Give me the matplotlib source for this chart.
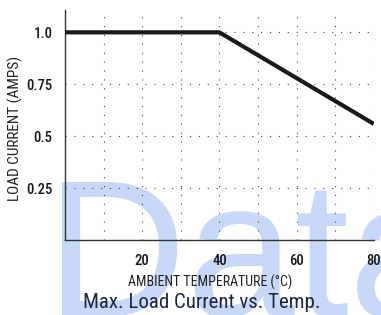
import matplotlib
matplotlib.use("Agg")
import matplotlib.pyplot as plt

# Derating curve (temperature in C, current in A)
temp = [0, 40, 80]
current = [1.0, 1.0, 0.56]

x_major = [20, 40, 60, 80]
x_minor = [10, 30, 50, 70]
y_ticks = [0.25, 0.5, 0.75, 1.0]
y_labels = ["0.25", "0.5", "0.75", "1.0"]

cond = ["Roboto Condensed", "DejaVu Sans"]

fig = plt.figure(figsize=(3.81, 3.15), dpi=100)
ax = fig.add_axes([0.1706, 0.237, 0.8104, 0.731])
ax.patch.set_alpha(0)

# watermark behind everything
fig.text(0.122, -0.003, "Data", fontsize=140, family=["Liberation Sans", "Arimo", "DejaVu Sans"],
         color="#c8d8f8", ha="left", va="baseline", zorder=-1)

ax.plot(temp, current, color="#1a1a1a", linewidth=3, solid_capstyle="butt", zorder=3)

ax.set_xlim(0, 80)
ax.set_ylim(0, 1.107)
ax.set_xticks(x_major)
ax.set_xticks(x_minor, minor=True)
ax.set_yticks(y_ticks)
ax.set_yticklabels(y_labels)
ax.grid(True, which="both", linestyle=(0, (1, 7)), color="#444444", linewidth=0.8)
ax.tick_params(which="both", length=0)
ax.tick_params(axis="y", pad=9, labelsize=10.5)
ax.tick_params(axis="x", pad=10, labelsize=10.5)
for lab in ax.get_xticklabels() + ax.get_yticklabels():
    lab.set_family(cond)
    lab.set_color("#1a1a1a")
    lab.set_weight("medium")

for s in ["top", "right"]:
    ax.spines[s].set_visible(False)
for s in ["left", "bottom"]:
    ax.spines[s].set_color("#333333")
    ax.spines[s].set_linewidth(1.0)

ax.set_xlabel("AMBIENT TEMPERATURE (°C)", family=cond, fontsize=10, color="#222222")
ax.xaxis.set_label_coords(0.47, -0.181)
ax.xaxis.label.set_va("center")
ax.set_ylabel("LOAD CURRENT (AMPS)", family=cond, fontsize=11, color="#222222")
ax.yaxis.set_label_coords(-0.162, 0.485)
ax.yaxis.label.set_va("center")

fig.text(0.53, 0.041, "Max. Load Current vs. Temp.", family=cond, fontsize=15,
         color="#1f2740", ha="center", va="center")

fig.savefig("out.png", dpi=100)
